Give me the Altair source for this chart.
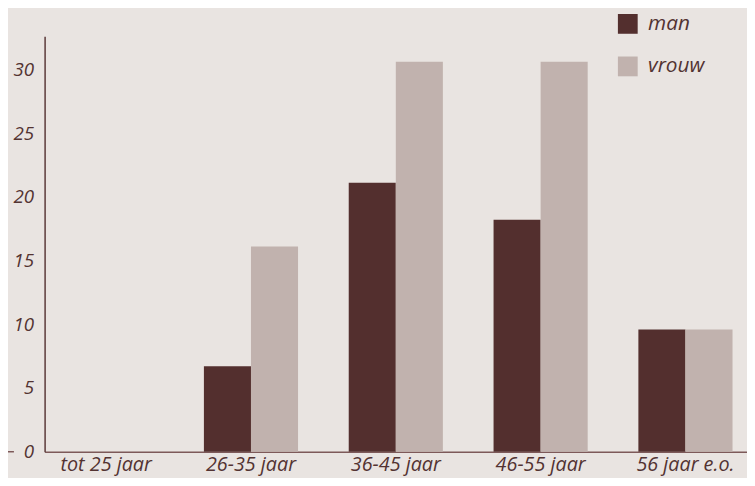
import altair as alt
import pandas as pd

categories = ["tot 25 jaar", "26-35 jaar", "36-45 jaar", "46-55 jaar", "56 jaar e.o."]
man = [0.0, 6.7, 21.1, 18.2, 9.6]
vrouw = [0.0, 16.1, 30.6, 30.6, 9.6]
series = ["man", "vrouw"]
colors = ["#532f2e", "#c1b2ae"]
y_ticks = [0, 5, 10, 15, 20, 25, 30]

rows = []
for c, m, v in zip(categories, man, vrouw):
    rows.append({"cat": c, "geslacht": "man", "waarde": m})
    rows.append({"cat": c, "geslacht": "vrouw", "waarde": v})
df = pd.DataFrame(rows)

FONT = "Open Sans"
TXT = "#533332"

bars = alt.Chart(df).mark_bar().encode(
    x=alt.X("cat:N", sort=categories, title=None,
            scale=alt.Scale(paddingInner=0.35, paddingOuter=0.1),
            axis=alt.Axis(labelAngle=0, labelFont=FONT, labelFontStyle="italic",
                          labelFontSize=20, labelColor=TXT, labelPadding=3,
                          domainColor="#7d5959", domainWidth=1.5, ticks=False,
                          grid=False)),
    xOffset=alt.XOffset("geslacht:N", sort=series, scale=alt.Scale(paddingInner=0, paddingOuter=0)),
    y=alt.Y("waarde:Q", title=None,
            scale=alt.Scale(domain=[0, 32.6], nice=False, zero=True),
            axis=alt.Axis(values=y_ticks, labelFont=FONT, labelFontStyle="italic",
                          labelFontSize=19, labelColor=TXT, labelPadding=11,
                          ticks=False, grid=False, domainColor="#5a3838",
                          domainWidth=1.5)),
    color=alt.Color("geslacht:N", sort=series,
                    scale=alt.Scale(domain=series, range=colors),
                    legend=alt.Legend(title=None, orient="none", legendX=579, legendY=-23,
                                      symbolType="square", symbolSize=400,
                                      symbolStrokeWidth=0, symbolOpacity=1,
                                      labelFont=FONT, labelFontStyle="italic",
                                      labelFontSize=21, labelColor=TXT,
                                      labelOffset=10, rowPadding=21, padding=0)),
)

dash = alt.Chart(pd.DataFrame({"v": [0]})).mark_rule(color="#7d5959", strokeWidth=1.5).encode(
    x=alt.value(-45), x2=alt.value(-31), y=alt.Y("v:Q")
)

chart = alt.layer(bars, dash).properties(
    width=710, height=420,
    autosize=alt.AutoSizeParams(type="none"),
    padding={"left": 37, "top": 26, "right": 0, "bottom": 24},
    background="#e9e4e1",
).configure_view(stroke=None)

chart.save("out.html", embed_options={"renderer": "svg", "actions": False})
